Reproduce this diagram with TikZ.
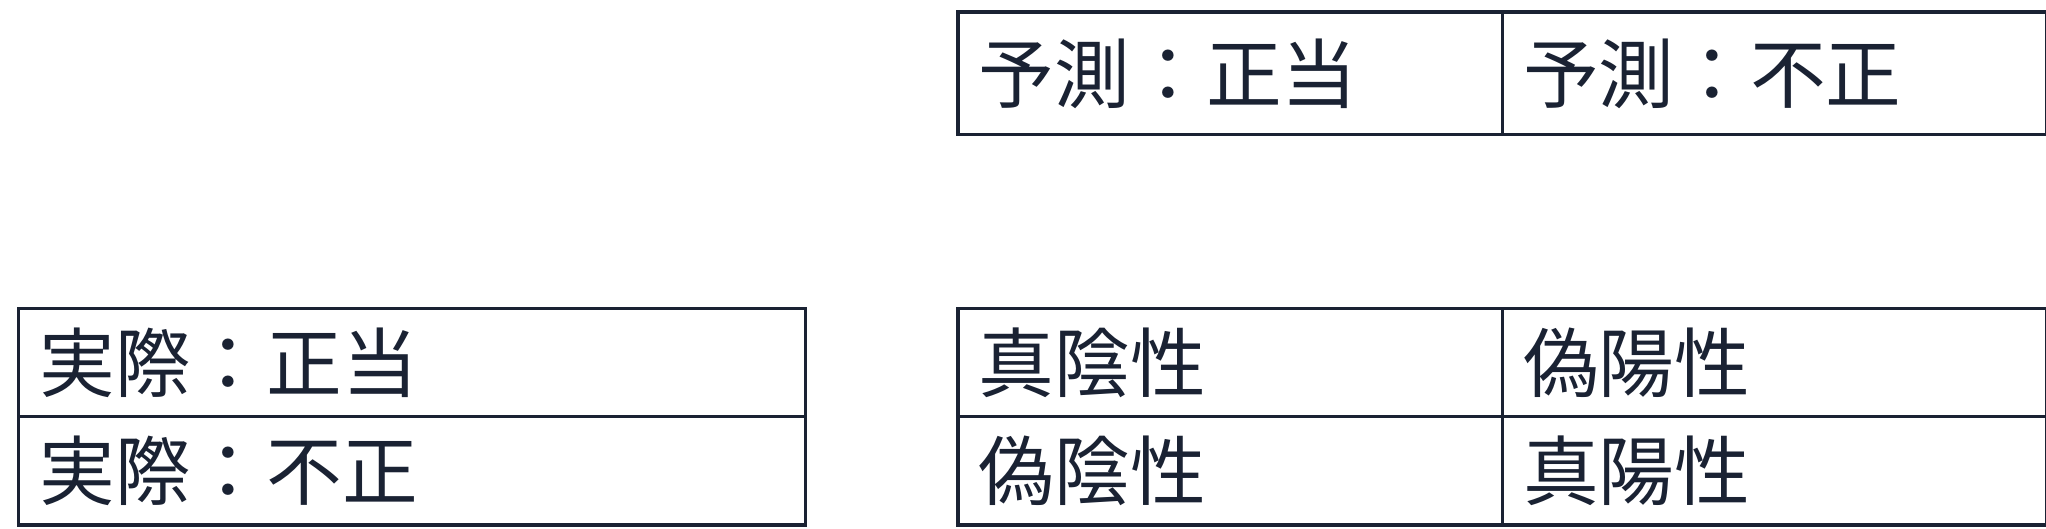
\documentclass[tikz,border=0pt]{standalone}
\usepackage{fontspec}
\newfontfamily\cjk{Noto Sans CJK JP}
\definecolor{ink}{HTML}{1A2233}
\begin{document}
\begin{tikzpicture}[x=1pt,y=-1pt,
  cell/.style={draw=ink, line width=2.5pt, text=ink, anchor=north west, inner xsep=16pt, inner ysep=0pt,
    text width=#1-32pt, minimum height=83pt, align=left, font=\cjk\fontsize{58}{60}\selectfont},
  cell/.default=417pt]
\useasboundingbox (0,0) rectangle (1568,405);
\node[cell, minimum height=94pt] (p1) at (733,8) {予測：正当};
\node[cell, minimum height=94pt] (p2) at (1150,8) {予測：不正};
\node[cell=603pt] (a1) at (13,235) {実際：正当};
\node[cell=603pt] (a2) at (13,318) {実際：不正};
\node[cell] (c11) at (733,235) {真陰性};
\node[cell] (c12) at (1150,235) {偽陽性};
\node[cell] (c21) at (733,318) {偽陰性};
\node[cell] (c22) at (1150,318) {真陽性};
\end{tikzpicture}
\end{document}
